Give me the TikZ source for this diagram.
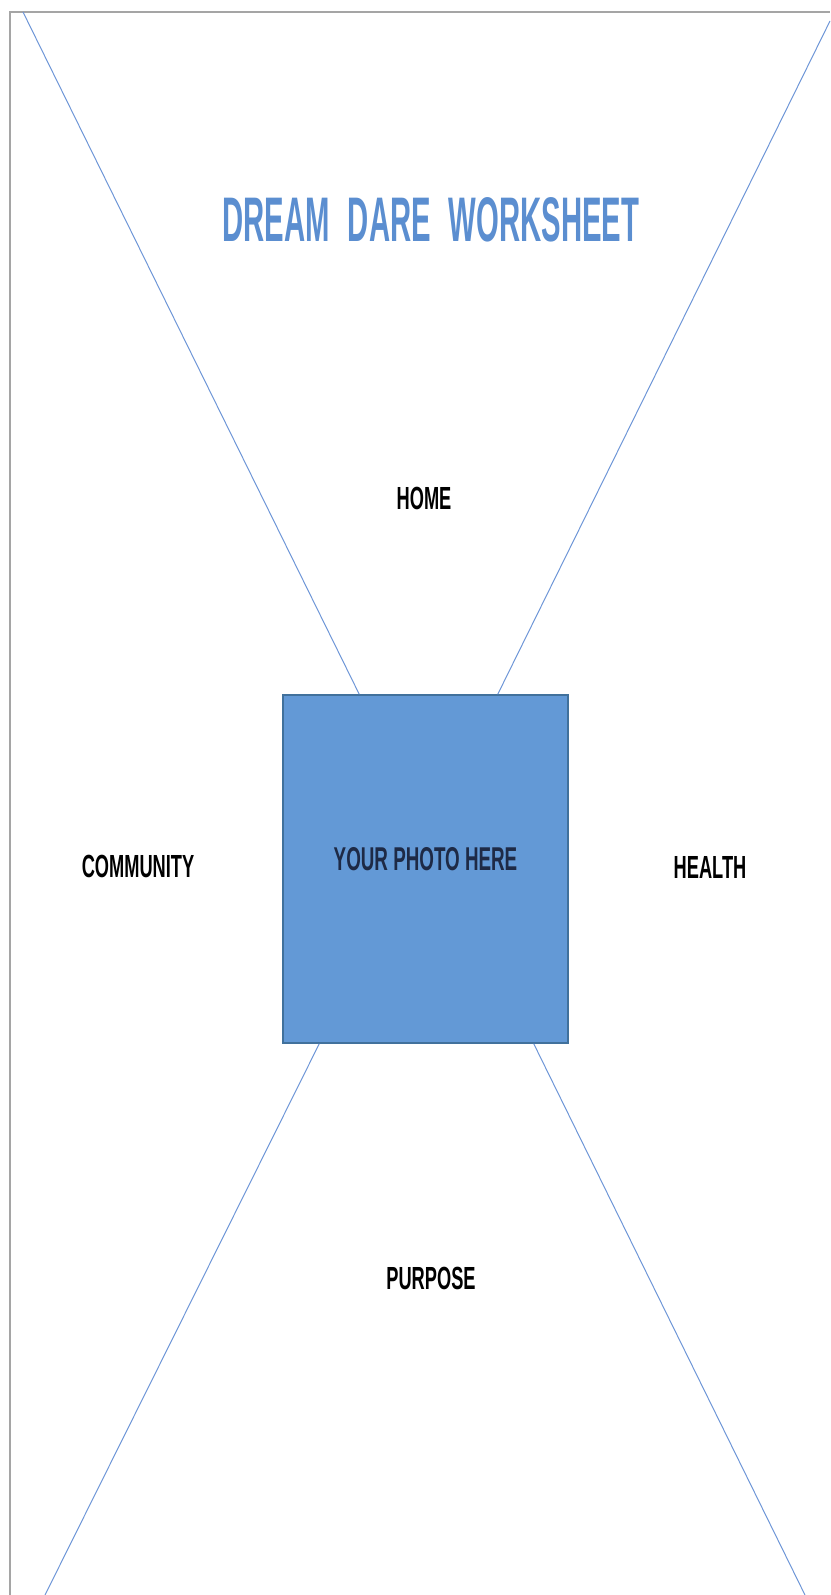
\documentclass[tikz,border=0pt]{standalone}
\usepackage{fontspec}
\newfontfamily\labelfont[FakeStretch=0.57]{Liberation Sans}
\newfontfamily\headfont[FakeStretch=0.465,WordSpace=2.2]{Liberation Sans}
\usetikzlibrary{calc}
\definecolor{rayblue}{RGB}{110,150,215}
\definecolor{photofill}{RGB}{99,153,214}
\definecolor{photoline}{RGB}{65,113,156}
\definecolor{headblue}{RGB}{91,142,208}
\definecolor{framegray}{RGB}{165,165,165}
\definecolor{phototext}{RGB}{30,42,70}

\begin{document}
\begin{tikzpicture}[x=1pt,y=-1pt,every node/.style={inner sep=0pt,font=\labelfont\bfseries\fontsize{32}{32}\selectfont},
  ray/.style={draw=rayblue,line width=1pt}]
  \useasboundingbox (0,0) rectangle (830,1595);
  \draw[framegray,line width=2pt] (10,1595) -- (10,12) -- (830,12);
  \path (425.5,869) node[draw=photoline,line width=1.5pt,fill=photofill,minimum width=285pt,minimum height=348pt] (photo) {}
  (431,220) node[text=headblue,font=\headfont\bfseries\fontsize{63}{63}\selectfont] (title) {DREAM DARE WORKSHEET}
  (424,498) node (home) {HOME} (138,866) node (community) {COMMUNITY}
  (710,867) node (health) {HEALTH} (431,1278) node (purpose) {PURPOSE};
  \node[text=phototext,font=\labelfont\bfseries\fontsize{33}{33}\selectfont] (photolabel) at ([yshift=10pt]photo.center) {YOUR PHOTO HERE};
  \coordinate (tl) at (23,12); \coordinate (tr) at (830,21);
  \coordinate (bl) at (45,1595); \coordinate (br) at (805,1595);
  \draw[ray] (tl) -- ([xshift=77pt]photo.north west);
  \draw[ray] (tr) -- ([xshift=-71pt]photo.north east);
  \draw[ray] (bl) -- ([xshift=37pt]photo.south west);
  \draw[ray] (br) -- ([xshift=-35pt]photo.south east);
\end{tikzpicture}
\end{document}
